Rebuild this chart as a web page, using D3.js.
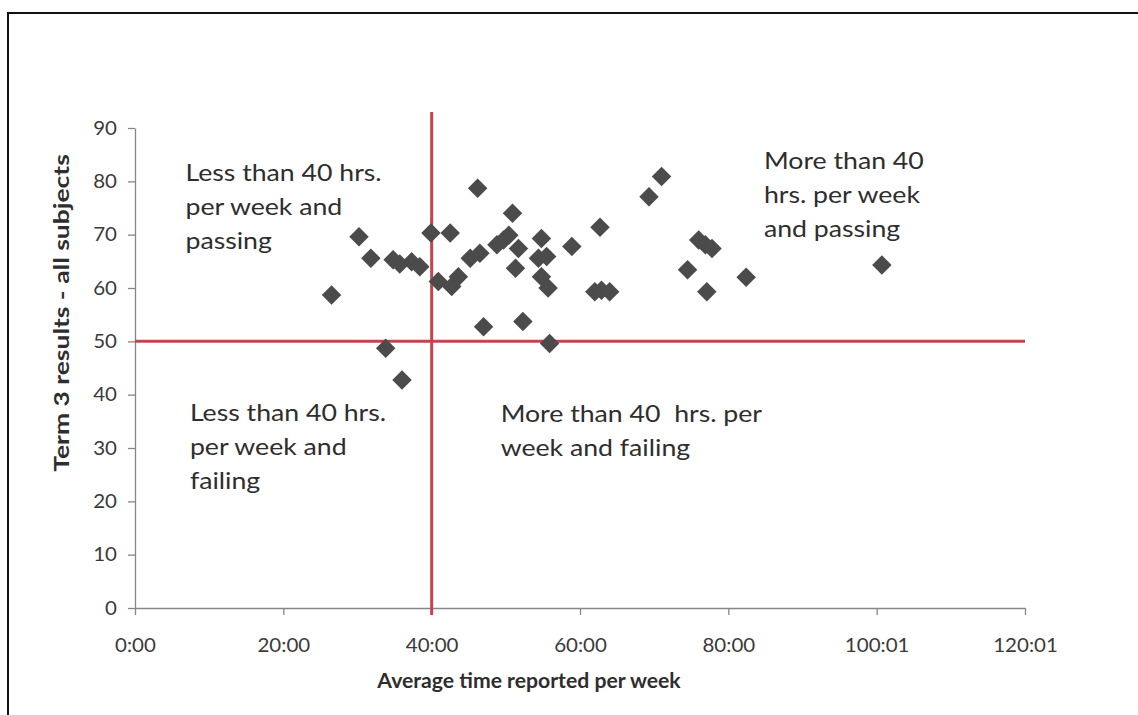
<!DOCTYPE html>
<html>
<head>
<meta charset="utf-8">
<script src="https://cdn.jsdelivr.net/npm/d3@7"></script>
<style>
  html, body { margin: 0; padding: 0; background: #fff; }
  svg { display: block; }
  text { font-family: Lato, "Open Sans", sans-serif; }
</style>
</head>
<body>
<svg id="chart" width="1138" height="715"></svg>
<script>
// Average time reported per week (hours) for each student
const hoursPerWeek = [
  26.5, 30.2, 31.8, 33.8, 34.8, 35.7, 36.0, 37.3, 38.4, 39.9,
  40.9, 42.5, 42.7, 43.6, 45.2, 46.2, 46.5, 47.0, 48.8, 49.7,
  50.4, 50.9, 51.7, 51.3, 52.3, 54.8, 54.4, 55.5, 54.8, 55.7,
  55.9, 58.9, 62.7, 62.0, 62.9, 64.0, 69.3, 71.0, 74.5, 76.0,
  76.9, 77.8, 77.1, 82.4, 100.7
];
// Term 3 results across all subjects, same order as above
const term3Results = [
  58.7, 69.6, 65.6, 48.7, 65.3, 64.5, 42.75, 64.9, 64.0, 70.3,
  61.2, 70.3, 60.3, 62.1, 65.6, 78.7, 66.5, 52.75, 68.1, 69.0,
  69.9, 74.0, 67.4, 63.7, 53.7, 69.3, 65.6, 65.9, 62.1, 60.0,
  49.6, 67.8, 71.4, 59.3, 59.6, 59.3, 77.1, 80.9, 63.4, 69.0,
  68.1, 67.4, 59.3, 62.0, 64.3
];

const xTickValues = [0, 20, 40, 60, 80, 100, 120];
const xTickLabels = ["0:00", "20:00", "40:00", "60:00", "80:00", "100:01", "120:01"];
const yTickValues = [0, 10, 20, 30, 40, 50, 60, 70, 80, 90];

const hoursThreshold = 40;
const passMark = 50;

const quadrantNotes = [
  ["Less than 40 hrs.", "per week and", "passing"],
  ["More than 40", "hrs. per week", "and passing"],
  ["Less than 40 hrs.", "per week and", "failing"],
  ["More than 40\u00a0 hrs. per", "week and failing"]
];

const xTitle = "Average time reported per week";
const yTitle = "Term 3 results - all subjects";

// ---- layout ----
const svg = d3.select("#chart");
const plot = { left: 135, right: 1025, top: 128, bottom: 608 };

const x = d3.scaleLinear().domain([0, 120]).range([plot.left, plot.right]);
const y = d3.scaleLinear().domain([0, 90]).range([plot.bottom, plot.top]);

const axisColor = "#868686";
const labelColor = "#3a3a3a";
const lineRed = "#c4434f";
const pointColor = "#4b4b4b";
const textWiden = 1.16;   // horizontal widening of the annotation lettering
const tickWiden = 1.08;

// outer chart frame
svg.append("rect")
  .attr("x", 8).attr("y", 13)
  .attr("width", 1300).attr("height", 900)
  .attr("fill", "none")
  .attr("stroke", "#111")
  .attr("stroke-width", 2);

// y axis
const yAxis = svg.append("g")
  .attr("transform", `translate(${plot.left},0)`)
  .call(d3.axisLeft(y).tickValues(yTickValues).tickSize(7).tickSizeOuter(0).tickPadding(11));

// x axis
const xAxis = svg.append("g")
  .attr("transform", `translate(0,${plot.bottom})`)
  .call(d3.axisBottom(x).tickValues(xTickValues).tickSize(7).tickSizeOuter(0).tickPadding(24)
    .tickFormat((d, i) => xTickLabels[i]));

[yAxis, xAxis].forEach(g => {
  g.select(".domain").attr("stroke", axisColor).attr("stroke-width", 1.3);
  g.selectAll(".tick line").attr("stroke", axisColor).attr("stroke-width", 1.3);
  g.selectAll(".tick text")
    .attr("fill", labelColor)
    .style("font-size", "19px");
});
yAxis.selectAll(".tick text")
  .attr("x", 0)
  .attr("transform", `translate(-18,0) scale(${tickWiden},1)`);
xAxis.selectAll(".tick text")
  .attr("transform", `scale(${tickWiden},1)`);

// threshold lines
svg.append("line")
  .attr("x1", x(0)).attr("x2", x(120))
  .attr("y1", y(passMark)).attr("y2", y(passMark))
  .attr("stroke", lineRed).attr("stroke-width", 3);

svg.append("line")
  .attr("x1", x(hoursThreshold)).attr("x2", x(hoursThreshold))
  .attr("y1", y(93)).attr("y2", plot.bottom + 7)
  .attr("stroke", lineRed).attr("stroke-width", 3);

// student points as diamonds
const diamond = d3.symbol().type(d3.symbolSquare).size(190);
svg.append("g")
  .selectAll("path")
  .data(hoursPerWeek.map((h, i) => ({ h, r: term3Results[i] })))
  .join("path")
  .attr("d", diamond)
  .attr("transform", d => `translate(${x(d.h)},${y(d.r)}) rotate(45)`)
  .attr("fill", pointColor);

// quadrant notes
const notePlacement = [
  { hx: 6.8, ry: 80.0 },
  { hx: 84.8, ry: 82.3 },
  { hx: 7.4, ry: 35.1 },
  { hx: 49.3, ry: 34.9 }
];
const noteLineHeight = 34;
quadrantNotes.forEach((lines, i) => {
  const p = notePlacement[i];
  const t = svg.append("text")
    .attr("transform", `translate(${x(p.hx)},${y(p.ry)}) scale(${textWiden},1)`)
    .attr("fill", "#2e2e2e")
    .style("font-size", "23px");
  lines.forEach((ln, j) => {
    t.append("tspan")
      .attr("x", 0)
      .attr("dy", j === 0 ? 0 : noteLineHeight)
      .text(ln);
  });
});

// axis titles
svg.append("text")
  .attr("transform", `translate(529,688) scale(1.06,1)`)
  .attr("text-anchor", "middle")
  .attr("fill", "#2e2e2e")
  .style("font-size", "20px")
  .style("font-weight", "bold")
  .text(xTitle);

svg.append("text")
  .attr("transform", `translate(69,313) rotate(-90) scale(1.26,1)`)
  .attr("text-anchor", "middle")
  .attr("fill", "#2e2e2e")
  .style("font-size", "21px")
  .style("font-weight", "bold")
  .text(yTitle);
</script>
</body>
</html>
